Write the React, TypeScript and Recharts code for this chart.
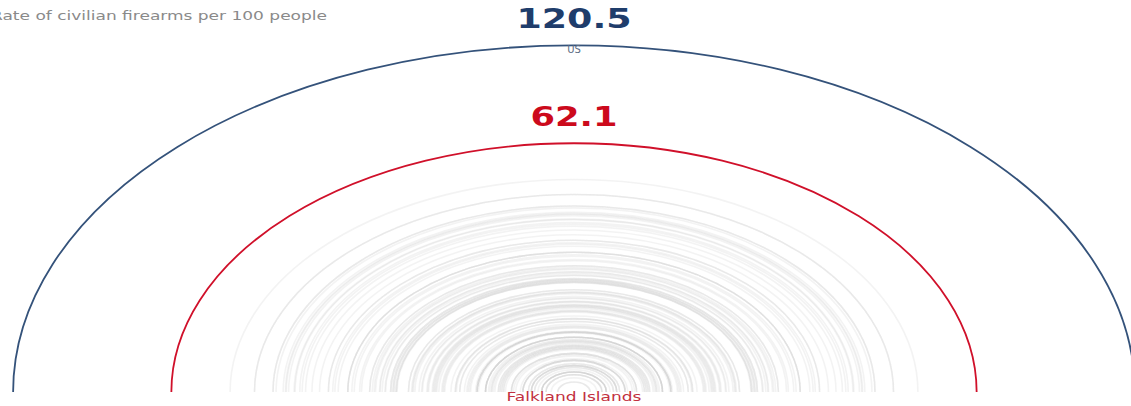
import React from "react";
import { ScatterChart, Scatter, XAxis, YAxis } from "recharts";

// ---- data ----
const highlightCountries = ["US", "Falkland Islands"];
const highlightRates = [120.5, 62.1];

const otherCountries = [
  "New Caledonia", "Serbia", "Montenegro", "Canada", "Uruguay", "Cyprus", "Finland", "Lebanon",
  "Iceland", "Bosnia and Herzegovina", "Austria", "North Macedonia", "Norway", "Malta", "Switzerland",
  "New Zealand", "Kuwait", "Kosovo", "Sweden", "Pakistan", "Greenland", "Portugal", "Germany", "Iraq",
  "France", "Luxembourg", "Venezuela", "Greece", "Angola", "Turkey", "Saudi Arabia", "Slovenia",
  "Panama", "Thailand", "Australia", "Italy", "Honduras", "Croatia", "Lithuania", "Mexico", "Libya",
  "Belgium", "Czech Republic", "Afghanistan", "Russia", "Chile", "Guatemala", "Albania", "Latvia",
  "Hungary", "Colombia", "Costa Rica", "Denmark", "South Africa", "Somalia", "Namibia", "Ukraine",
  "Brazil", "Syria", "Jamaica", "Bulgaria", "Dominican Republic", "Spain", "Argentina", "Iran",
  "Ireland", "Ghana", "Israel", "Sudan", "Slovakia", "Belarus", "El Salvador", "Mali", "Botswana",
  "India", "Estonia", "Morocco", "United Kingdom", "Ivory Coast", "Moldova", "Egypt", "Chad",
  "Cambodia", "Peru", "China", "Philippines", "Azerbaijan", "Nigeria", "Romania", "Cuba", "Trinidad",
  "Eritrea", "Burundi", "Mongolia", "Guinea", "Netherlands", "Haiti", "Poland", "Ecuador", "Bolivia",
  "Sri Lanka", "Algeria", "Kyrgyzstan", "Senegal", "Sierra Leone", "Zimbabwe", "Kazakhstan", "Laos",
  "Kenya", "Zambia", "Nepal", "Papua New Guinea", "Malaysia", "DR Congo", "Vietnam", "Tunisia",
  "Tanzania", "Cameroon", "Uganda", "Niger", "Mozambique", "Myanmar", "Tajikistan", "Fiji",
  "Madagascar", "Togo", "Uzbekistan", "Bangladesh", "Ethiopia", "Solomon Islands", "Benin", "Liberia",
  "Indonesia", "Japan", "Singapore", "South Korea", "Taiwan", "Rwanda",
];
const otherRates = [
  45.3, 39.1, 39.1, 34.7, 34.7, 34.0, 32.4, 31.9,
  31.7, 31.2, 30.0, 29.8, 28.8, 28.3, 27.6,
  26.3, 24.8, 23.1, 23.1, 22.3, 21.9, 21.3, 19.6, 19.6,
  19.6, 18.9, 18.5, 17.6, 17.3, 16.0, 16.0, 15.6,
  15.3, 15.1, 14.5, 14.4, 14.1, 13.7, 13.6, 12.9, 12.9,
  12.7, 12.5, 12.5, 12.3, 12.1, 12.1, 12.0, 10.5,
  10.5, 10.1, 10.0, 9.9, 9.7, 9.2, 8.9, 8.8,
  8.3, 8.2, 8.1, 7.7, 7.6, 7.5, 7.4, 7.3,
  7.2, 7.0, 6.7, 6.6, 6.5, 6.4, 5.8, 5.4, 5.4,
  5.3, 5.0, 5.0, 4.6, 4.4, 4.3, 4.2, 4.1,
  3.7, 3.6, 3.6, 3.6, 3.6, 3.5, 3.0, 3.0, 3.0,
  3.0, 3.0, 2.8, 2.7, 2.6, 2.6, 2.5, 2.4, 2.2,
  2.2, 2.1, 2.1, 2.0, 2.0, 1.9, 1.9, 1.8,
  1.5, 1.5, 1.5, 1.4, 1.3, 1.1, 1.0, 1.0,
  1.0, 1.0, 0.8, 0.8, 0.7, 0.7, 0.7, 0.7,
  0.6, 0.6, 0.5, 0.4, 0.4, 0.4, 0.4, 0.4,
  0.3, 0.3, 0.3, 0.2, 0.1, 0.1,
];

const axisMax = 126.2;
const title = "Rate of civilian firearms per 100 people";

// ---- layout constants ----
const W = 1148;
const H = 406;
const CENTER_X = 574; // left margin = centre of the semicircles
const RATIO = 0.618; // vertical / horizontal radius

const otherData = otherCountries.map((name, i) => ({ name, x: otherRates[i], y: 0 }));
const usData = [{ name: highlightCountries[0], x: highlightRates[0], y: 0 }];
const fkData = [{ name: highlightCountries[1], x: highlightRates[1], y: 0 }];

const BOLD_FONT = "'DejaVu Sans', Verdana, sans-serif";

function makeShape(kind: "other" | "us" | "fk") {
  return (props: any) => {
    const { cx, cy, payload } = props;
    if (cx == null || cy == null) return <g />;
    const rx = cx - CENTER_X;
    const ry = rx * RATIO;
    const d = `M ${CENTER_X - rx} ${cy} A ${rx} ${ry} 0 0 1 ${cx} ${cy}`;
    if (kind === "other") {
      return <path d={d} fill="none" stroke="#c4c4c4" strokeOpacity={0.2} strokeWidth={1.6} />;
    }
    const top = cy - ry;
    const color = kind === "us" ? "#1f3d6b" : "#cc0a1c";
    const lineColor = kind === "us" ? "#34527a" : "#d0102a";
    const label = String(payload.x);
    return (
      <g>
        <path d={d} fill="none" stroke={lineColor} strokeWidth={1.8} />
        <text
          x={CENTER_X}
          y={top - 17}
          textAnchor="middle"
          fontFamily={BOLD_FONT}
          fontWeight="bold"
          fontSize={26}
          fill={color}
          textLength={kind === "us" ? 115 : 87}
          lengthAdjust="spacingAndGlyphs"
        >
          {label}
        </text>
        {kind === "us" && (
          <text
            x={CENTER_X}
            y={top + 8}
            textAnchor="middle"
            fontFamily={BOLD_FONT}
            fontSize={10}
            fill="#5b6b82"
          >
            {payload.name}
          </text>
        )}
      </g>
    );
  };
}

export default function App() {
  return (
    <div
      style={{
        position: "absolute",
        left: 0,
        top: 0,
        width: 1131,
        height: 406,
        overflow: "hidden",
        background: "#ffffff",
      }}
    >
      <ScatterChart width={W} height={H} margin={{ top: 0, right: 0, bottom: 14, left: CENTER_X }}>
        <XAxis type="number" dataKey="x" scale="sqrt" domain={[0, axisMax]} hide />
        <YAxis type="number" dataKey="y" domain={[0, 1]} hide />
        <Scatter data={otherData} isAnimationActive={false} shape={makeShape("other")} />
        <Scatter data={fkData} isAnimationActive={false} shape={makeShape("fk")} />
        <Scatter data={usData} isAnimationActive={false} shape={makeShape("us")} />
      </ScatterChart>
      <svg
        width={1131}
        height={406}
        style={{ position: "absolute", left: 0, top: 0, pointerEvents: "none" }}
      >
        <text
          x={-9}
          y={20}
          fontFamily={BOLD_FONT}
          fontSize={12.5}
          fill="#8a8a8a"
          textLength={336}
          lengthAdjust="spacingAndGlyphs"
        >
          {title}
        </text>
        <text
          x={CENTER_X}
          y={401}
          textAnchor="middle"
          fontFamily={BOLD_FONT}
          fontSize={12.5}
          fill="#c23040"
          textLength={135}
          lengthAdjust="spacingAndGlyphs"
        >
          {highlightCountries[1]}
        </text>
      </svg>
    </div>
  );
}
